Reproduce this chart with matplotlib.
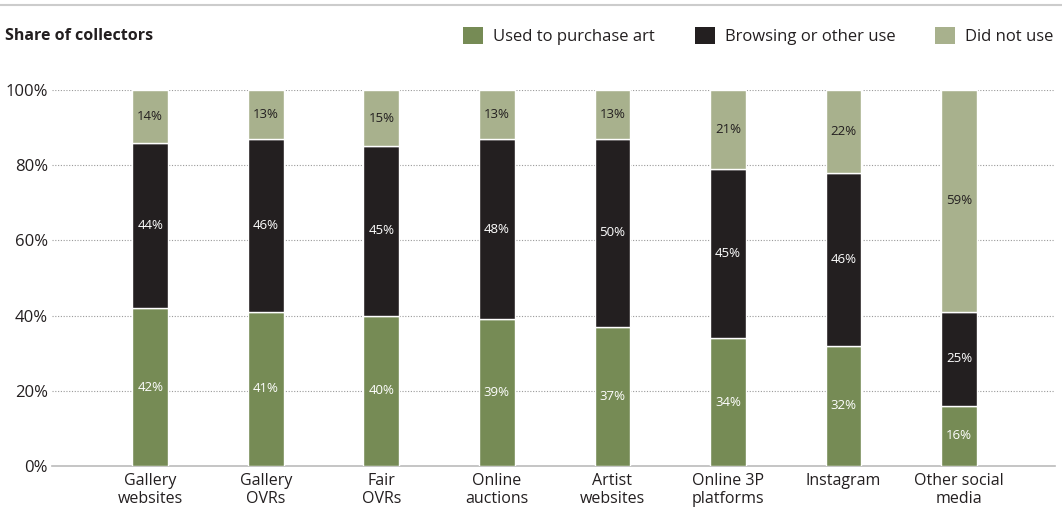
import matplotlib.pyplot as plt
import numpy as np
from matplotlib.patches import Patch
from matplotlib.lines import Line2D

categorias = ["Gallery\nwebsites", "Gallery\nOVRs", "Fair\nOVRs", "Online\nauctions",
              "Artist\nwebsites", "Online 3P\nplatforms", "Instagram", "Other social\nmedia"]
comprou = [42, 41, 40, 39, 37, 34, 32, 16]
navegou = [44, 46, 45, 48, 50, 45, 46, 25]
nao_usou = [14, 13, 15, 13, 13, 21, 22, 59]

series = ["Used to purchase art", "Browsing or other use", "Did not use"]
cores = ["#768b55", "#231f20", "#a8b18d"]
cores_texto = ["white", "white", "#231f20"]

plt.rcParams['font.family'] = ['Open Sans', 'DejaVu Sans']

fig = plt.figure(figsize=(10.62, 5.31), dpi=100)
ax = fig.add_axes([52 / 1062, 1 - 466 / 531, 1003 / 1062, 376 / 531])

x = np.arange(len(categorias))
base = np.zeros(len(categorias))
for vals, cor, ct in zip([comprou, navegou, nao_usou], cores, cores_texto):
    vals = np.array(vals)
    ax.bar(x, vals, bottom=base, width=0.31, color=cor, edgecolor="white", linewidth=1, zorder=3)
    for xi, b, v in zip(x, base, vals):
        ax.text(xi, b + v / 2, f"{v}%", ha="center", va="center", color=ct, fontsize=9.5, zorder=4)
    base += vals

ax.set_xlim(-0.85, 7.83)
ax.set_ylim(0, 100)
ax.set_yticks([0, 20, 40, 60, 80, 100])
ax.set_yticklabels([f"{v}%" for v in [0, 20, 40, 60, 80, 100]], fontsize=12, color="#231f20")
ax.set_xticks(x)
ax.set_xticklabels(categorias, fontsize=11.5, color="#231f20", linespacing=1.2)
ax.tick_params(axis="both", length=0, pad=5)
ax.tick_params(axis="y", pad=3)
for v in [20, 40, 60, 80, 100]:
    ax.axhline(v, color="#9a9a9a", linestyle=(0, (1, 1.5)), linewidth=0.8, zorder=1)
for s in ["top", "right", "left"]:
    ax.spines[s].set_visible(False)
ax.spines["bottom"].set_color("#bbbbbb")
ax.spines["bottom"].set_linewidth(1.2)

# linha cinza no topo
fig.add_artist(Line2D([0, 1], [1 - 5 / 531, 1 - 5 / 531], color="#cccccc", linewidth=1.5))

fig.text(5 / 1062, 1 - 36 / 531, "Share of collectors", fontsize=11.5, fontweight="bold",
         va="center", ha="left", color="#231f20")

handles = [Patch(facecolor=c, edgecolor="none") for c in cores]
fig.legend(handles, series, loc="center right", bbox_to_anchor=(1.0, 1 - 36 / 531), ncol=3,
           frameon=False, fontsize=12, handlelength=1.2, handleheight=1.2,
           handletextpad=0.6, columnspacing=2.4, borderaxespad=0.1, labelcolor="#231f20")

fig.savefig("out.png", dpi=100)
